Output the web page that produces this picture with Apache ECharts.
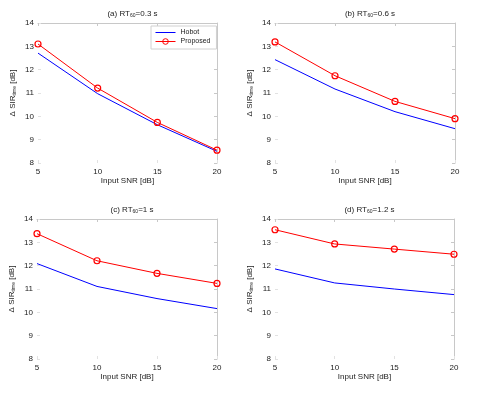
<!DOCTYPE html>
<html><head><meta charset="utf-8">
<script src="https://cdn.jsdelivr.net/npm/echarts@6/dist/echarts.min.js"></script>
<style>html,body{margin:0;padding:0;background:#fff}#c{width:480px;height:393px}</style>
</head><body><div id="c"></div>
<script>
const snr = [5, 10, 15, 20];
const xTicks = [5, 10, 15, 20];
const yTicks = [8, 9, 10, 11, 12, 13, 14];
const panelLetters = ['(a)', '(b)', '(c)', '(d)'];
const rtValues = ['0.3', '0.6', '1', '1.2'];
const seriesNames = ['Hobot', 'Proposed'];
const hobotA = [12.71, 10.97, 9.64, 8.50];
const propA  = [13.10, 11.21, 9.74, 8.55];
const hobotB = [12.43, 11.17, 10.20, 9.47];
const propB  = [13.19, 11.74, 10.64, 9.90];
const hobotC = [12.09, 11.11, 10.59, 10.16];
const propC  = [13.37, 12.21, 11.67, 11.24];
const hobotD = [11.86, 11.26, 11.00, 10.76];
const propD  = [13.54, 12.93, 12.71, 12.49];

const hobot = [hobotA, hobotB, hobotC, hobotD];
const prop = [propA, propB, propC, propD];

const grids = [
  {left: 38, top: 23, width: 179, height: 140},
  {left: 275, top: 23, width: 180, height: 140},
  {left: 37, top: 219, width: 180, height: 140},
  {left: 275, top: 219, width: 179, height: 140}
];
const FONT = 'Liberation Sans, Arial, sans-serif';
const txt = '#222';
const frame = '#c8c8c8';

const option = {
  animation: false,
  backgroundColor: '#fff',
  textStyle: {fontFamily: FONT},
  grid: grids.map(g => Object.assign({containLabel: false}, g)),
  title: [], xAxis: [], yAxis: [], series: [],
  legend: {
    data: [
      {name: seriesNames[0], icon: 'path://M0,0 M0,3 L20,3 L20,4 L0,4 Z M20,7'},
      {name: seriesNames[1]}
    ],
    orient: 'vertical',
    left: 151, top: 26,
    itemWidth: 20, itemHeight: 7, itemGap: 2,
    padding: [3, 6, 4, 4],
    borderColor: '#d0d0d0', borderWidth: 1,
    backgroundColor: '#fff',
    lineStyle: {width: 1},
    itemStyle: {borderWidth: 1},
    textStyle: {fontSize: 7, color: txt, fontFamily: FONT}
  }
};

const rich = {
  m: {fontSize: 8, color: txt, fontFamily: FONT, fontWeight: 'normal', lineHeight: 12, verticalAlign: 'bottom'},
  s: {fontSize: 5, color: txt, fontFamily: FONT, fontWeight: 'normal', lineHeight: 12, verticalAlign: 'bottom'}
};

for (let i = 0; i < 4; i++) {
  const g = grids[i];
  option.title.push({
    text: '{m|' + panelLetters[i] + ' RT}{s|60}{m|=' + rtValues[i] + ' s}',
    left: g.left + g.width / 2, top: g.top - 22,
    textAlign: 'center',
    textStyle: {rich: rich, fontSize: 8, fontWeight: 'normal'}
  });
  option.xAxis.push({
    type: 'value', gridIndex: i, min: 5, max: 20, interval: 5,
    name: 'Input SNR [dB]', nameLocation: 'middle', nameGap: 13,
    nameTextStyle: {fontSize: 8, color: txt, fontFamily: FONT},
    axisLine: {show: false},
    axisTick: {show: true, inside: true, length: 3, lineStyle: {color: '#e2e2e2'}},
    axisLabel: {fontSize: 8, color: txt, margin: 5, fontFamily: FONT},
    splitLine: {show: false}
  });
  option.yAxis.push({
    type: 'value', gridIndex: i, min: 8, max: 14, interval: 1,
    name: '{m|\u0394 SIR}{s|time}{m| [dB]}', nameLocation: 'middle', nameGap: 21, nameRotate: 90,
    nameTextStyle: {rich: rich},
    axisLine: {show: false},
    axisTick: {show: true, inside: true, length: 3, lineStyle: {color: '#e2e2e2'}},
    axisLabel: {fontSize: 8, color: txt, margin: 4, fontFamily: FONT},
    splitLine: {show: false}
  });
}
for (let i = 0; i < 4; i++) {
  option.xAxis.push({
    type: 'value', gridIndex: i, min: 5, max: 20, interval: 5, position: 'top',
    axisLine: {show: true, onZero: false, lineStyle: {color: frame, width: 1}},
    axisTick: {show: true, inside: true, length: 3, lineStyle: {color: frame}},
    axisLabel: {show: false}, splitLine: {show: false}
  });
  option.yAxis.push({
    type: 'value', gridIndex: i, min: 8, max: 14, interval: 1, position: 'right',
    axisLine: {show: true, onZero: false, lineStyle: {color: frame, width: 1}},
    axisTick: {show: true, inside: true, length: 3, lineStyle: {color: frame}},
    axisLabel: {show: false}, splitLine: {show: false}
  });
}
for (let i = 0; i < 4; i++) {
  option.series.push({
    name: seriesNames[0], type: 'line', xAxisIndex: i, yAxisIndex: i,
    data: snr.map((x, k) => [x, hobot[i][k]]),
    showSymbol: false, symbol: 'none',
    lineStyle: {color: '#0000ff', width: 1},
    itemStyle: {color: '#0000ff'}
  });
  option.series.push({
    name: seriesNames[1], type: 'line', xAxisIndex: i, yAxisIndex: i,
    data: snr.map((x, k) => [x, prop[i][k]]),
    symbol: 'circle', symbolSize: 6, showSymbol: true,
    lineStyle: {color: '#ff0000', width: 1},
    itemStyle: {color: 'rgba(255,255,255,0)', borderColor: '#ff0000', borderWidth: 1.2},
    z: 3
  });
}
const chart = echarts.init(document.getElementById('c'), null, {renderer: 'canvas'});
chart.setOption(option);
</script></body></html>
